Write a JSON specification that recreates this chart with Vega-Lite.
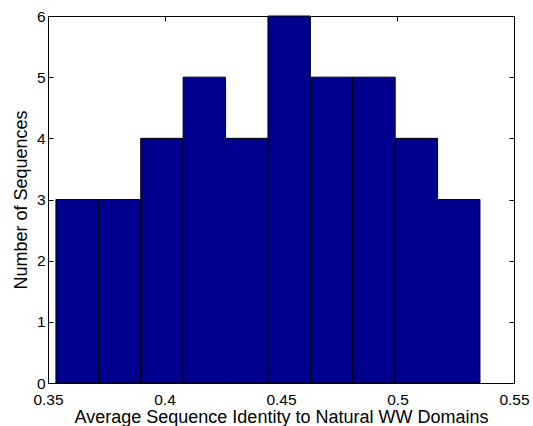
{
  "$schema": "https://vega.github.io/schema/vega-lite/v6.json",
  "width": 466,
  "height": 367,
  "autosize": {"type": "none"},
  "padding": {"left": 48, "top": 16, "right": 19, "bottom": 43},
  "background": "white",
  "config": {
    "view": {"stroke": "black", "strokeWidth": 1},
    "font": "Liberation Sans",
    "axis": {
      "grid": false,
      "domain": false,
      "labelFlush": false,
      "labelOverlap": false,
      "tickColor": "black",
      "tickSize": -5,
      "labelColor": "black",
      "labelFont": "Liberation Sans",
      "labelFontSize": 15.5,
      "titleFont": "Liberation Sans",
      "titleFontSize": 18,
      "titleFontWeight": "normal",
      "titleColor": "black"
    }
  },
  "data": {
    "values": [
      {"lo": 0.3534, "hi": 0.3716, "count": 3},
      {"lo": 0.3716, "hi": 0.3898, "count": 3},
      {"lo": 0.3898, "hi": 0.4080, "count": 4},
      {"lo": 0.4080, "hi": 0.4262, "count": 5},
      {"lo": 0.4262, "hi": 0.4444, "count": 4},
      {"lo": 0.4444, "hi": 0.4626, "count": 6},
      {"lo": 0.4626, "hi": 0.4808, "count": 5},
      {"lo": 0.4808, "hi": 0.4990, "count": 5},
      {"lo": 0.4990, "hi": 0.5172, "count": 4},
      {"lo": 0.5172, "hi": 0.5354, "count": 3}
    ]
  },
  "layer": [
    {
      "mark": {"type": "rect", "fill": "#00008F", "stroke": "black", "strokeWidth": 1},
      "encoding": {
        "x": {
          "field": "lo", "type": "quantitative",
          "scale": {"domain": [0.35, 0.55], "nice": false, "zero": false, "padding": 0},
          "axis": {"orient": "bottom", "values": [0.35, 0.4, 0.45, 0.5, 0.55], "format": "~g", "labelPadding": 14, "title": "Average Sequence Identity to Natural WW Domains", "titlePadding": 1}
        },
        "x2": {"field": "hi"},
        "y": {
          "field": "count", "type": "quantitative",
          "scale": {"domain": [0, 6], "nice": false, "padding": 0},
          "axis": {"orient": "left", "values": [0, 1, 2, 3, 4, 5, 6], "labelPadding": 8, "title": "Number of Sequences", "titlePadding": 6}
        },
        "y2": {"datum": 0}
      }
    },
    {
      "mark": {"type": "rect", "opacity": 0},
      "encoding": {
        "x": {
          "field": "lo", "type": "quantitative",
          "axis": {"orient": "top", "values": [0.35, 0.4, 0.45, 0.5, 0.55], "labels": false, "title": null}
        },
        "x2": {"field": "hi"},
        "y": {
          "field": "count", "type": "quantitative",
          "axis": {"orient": "right", "values": [0, 1, 2, 3, 4, 5, 6], "labels": false, "title": null}
        },
        "y2": {"datum": 0}
      }
    }
  ],
  "resolve": {"axis": {"x": "independent", "y": "independent"}}
}
